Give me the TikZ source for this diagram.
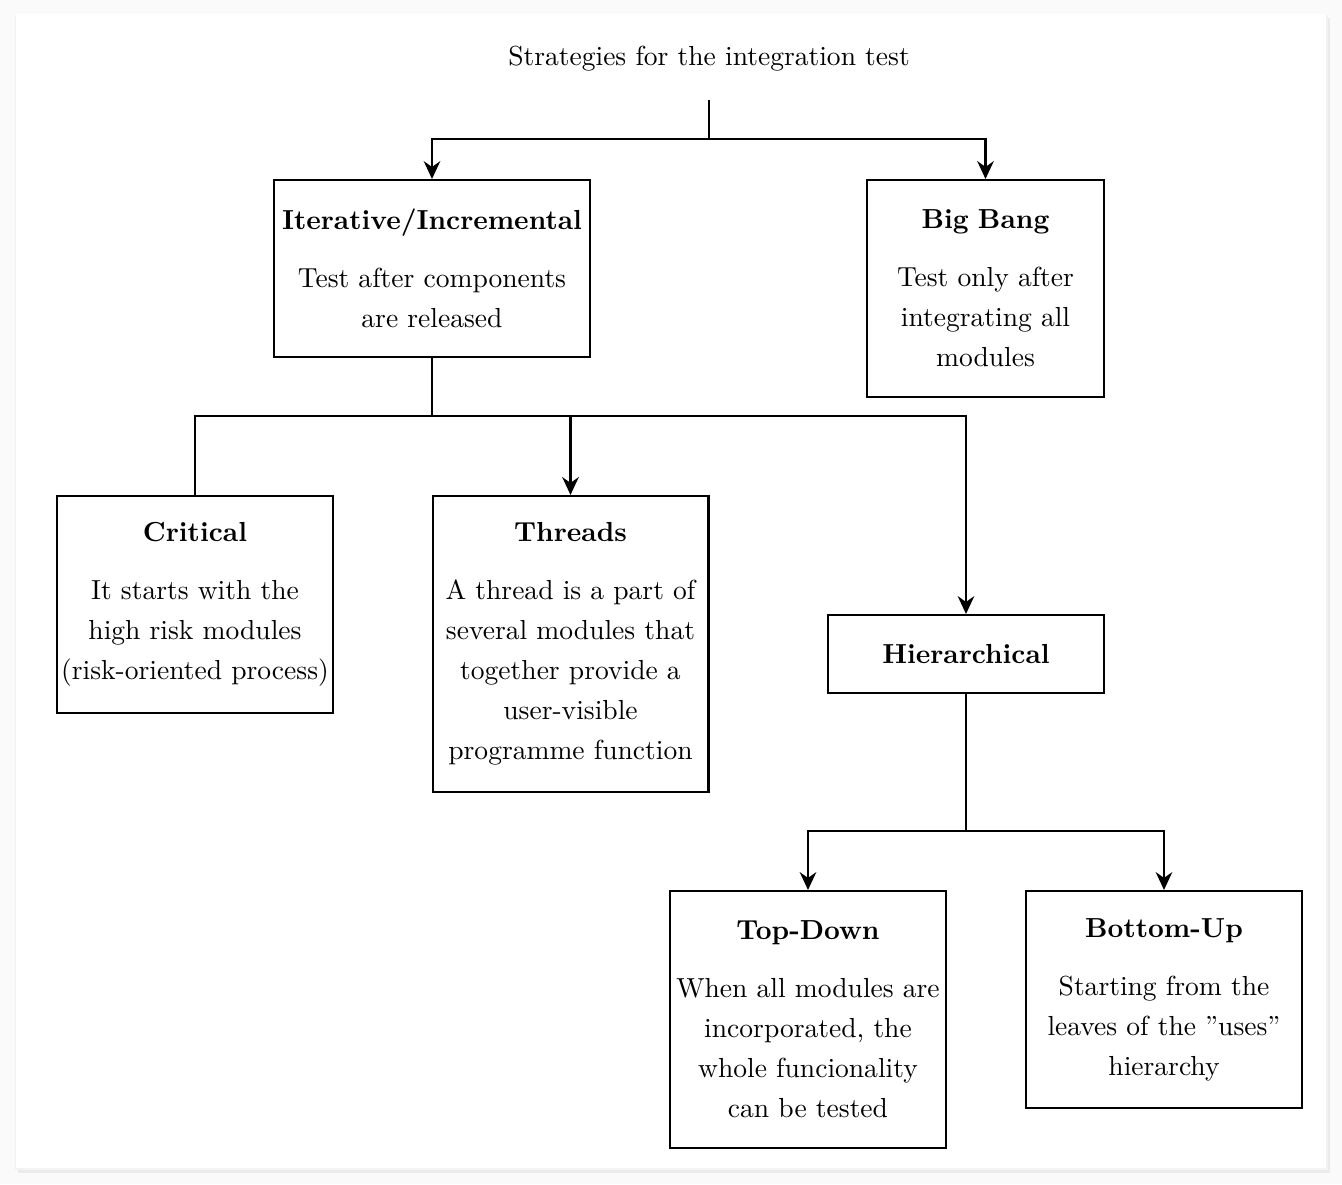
\documentclass[tikz,border=0pt]{standalone}
\usepackage{tikz}
\usetikzlibrary{arrows.meta}

\tikzset{
  box/.style={draw, thick, align=center, inner xsep=0.5pt, inner ysep=0pt,
    font=\fontsize{10.8pt}{15.7pt}\selectfont},
  conn/.style={thick},
  arr/.style={thick, -{Stealth[length=7pt, width=6.5pt]}}
}
\newcommand{\hd}[1]{\textbf{#1}\\[7pt]}

\begin{document}
\begin{tikzpicture}[x=0.3921pt, y=-0.3921pt]
%card
\useasboundingbox (0,0) rectangle (1342,1184);
\fill[black!2] (0,0) rectangle (1342,1184);
\fill[black!8] (18,18) rectangle (1330,1173);
\fill[black!5] (15,15) rectangle (1328,1170);
\fill[white] (16,14) rectangle (1326,1168);
%label
\node[font=\fontsize{10.8pt}{13pt}\selectfont] (title) at (709,59) {Strategies for the integration test};
%level 1
\node[box, text width=124pt-1pt, minimum width=124pt, minimum height=69.4pt] (iter) at (432,268.5)
  {\hd{Iterative/Incremental}Test after components\\are released};
\node[box, text width=93pt-1pt, minimum width=93pt, minimum height=85.1pt] (bang) at (985.5,288.5)
  {\hd{Big Bang}Test only after\\integrating all\\modules};
%level 2
\node[box, text width=108pt-1pt, minimum width=108.2pt, minimum height=85.1pt] (crit) at (195,604.5)
  {\hd{Critical}It starts with the\\high risk modules\\(risk-oriented process)};
\node[box, text width=108pt-1pt, minimum width=108.2pt, minimum height=116.1pt] (thr) at (570.5,644)
  {\hd{Threads}A thread is a part of\\several modules that\\together provide a\\user-visible\\programme function};
\node[box, text width=108pt-1pt, minimum width=108.2pt, minimum height=30.6pt] (hier) at (966,654)
  {\textbf{Hierarchical}};
%level 3
\node[box, text width=108pt-1pt, minimum width=108.2pt, minimum height=100.8pt] (top) at (808,1019.5)
  {\hd{Top-Down}When all modules are\\incorporated, the\\whole funcionality\\can be tested};
\node[box, text width=108pt-1pt, minimum width=108.2pt, minimum height=85.1pt] (bot) at (1164,999.5)
  {\hd{Bottom-Up}Starting from the\\leaves of the ''uses''\\hierarchy};
%dummy coordinates
\coordinate (t0) at (709,100);
\coordinate (t1) at (709,139);
\coordinate (i1) at (432,416);
\coordinate (h1) at (966,831);
%connectors
\draw[conn] (t0) -- (t1);
\draw[arr] (t1) -| (iter.north);
\draw[arr] (t1) -| (bang.north);
\draw[conn] (iter.south) -- (i1);
\draw[conn] (i1) -| (crit.north);
\draw[arr] (i1) -| (thr.north);
\draw[arr] (i1) -| (hier.north);
\draw[conn] (hier.south) -- (h1);
\draw[arr] (h1) -| (top.north);
\draw[arr] (h1) -| (bot.north);
\end{tikzpicture}
\end{document}
